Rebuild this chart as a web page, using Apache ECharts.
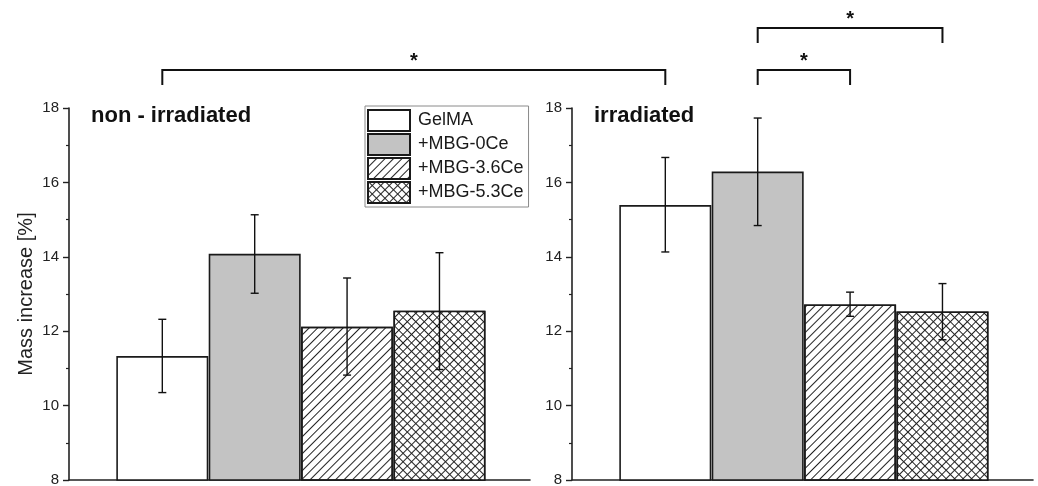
<!DOCTYPE html>
<html>
<head>
<meta charset="utf-8">
<script src="https://cdn.jsdelivr.net/npm/echarts@6/dist/echarts.min.js"></script>
<style>
  html, body { margin: 0; padding: 0; background: #fff; }
  #main { width: 1038px; height: 486px; }
</style>
</head>
<body>
<div id="main"></div>
<script>
// groups (legend)
const groups = ['GelMA', '+MBG-0Ce', '+MBG-3.6Ce', '+MBG-5.3Ce'];
const panelTitles = ['non - irradiated', 'irradiated'];
// mean values + error range, non-irradiated
const nonIrrMean = [11.33, 14.08, 12.12, 12.55];
const nonIrrLow = [10.35, 13.02, 10.82, 10.97];
const nonIrrHigh = [12.32, 15.13, 13.43, 14.11];
// irradiated
const irrMean = [15.39, 16.29, 12.72, 12.53];
const irrLow = [14.13, 14.84, 12.40, 11.77];
const irrHigh = [16.67, 17.73, 13.05, 13.28];
// significance brackets: [panel, group] -> [panel, group], level
const brackets = [
  { from: [0, 0], to: [1, 0], level: 0 },
  { from: [1, 1], to: [1, 2], level: 0 },
  { from: [1, 1], to: [1, 3], level: 1 }
];

const FONT = 'Arial, "Liberation Sans", sans-serif';

const styles = [
  { color: '#ffffff' },
  { color: '#c3c3c3' },
  { color: '#ffffff', decal: { symbol: 'rect', symbolSize: 1, color: '#222', dashArrayX: [1, 0], dashArrayY: [1, 5], rotation: -Math.PI / 4 } },
  { color: '#222222', decal: { symbol: 'rect', symbolSize: 1, color: '#ffffff', dashArrayX: [4.6, 1], dashArrayY: [4.6, 1], rotation: Math.PI / 4 } }
];

var chart = echarts.init(document.getElementById('main'), null, { renderer: 'canvas' });

function yAxisOf(grid, withName) {
  return {
    type: 'value', gridIndex: grid, min: 8, max: 18, interval: 2,
    name: withName ? 'Mass increase [%]' : '',
    nameLocation: 'middle', nameGap: 33,
    nameTextStyle: { fontFamily: FONT, fontSize: 20, color: '#222' },
    axisLine: { show: true, onZero: false, lineStyle: { color: '#222', width: 1.6 } },
    axisTick: { show: true, inside: false, length: 6, lineStyle: { color: '#222', width: 1.4 } },
    minorTick: { show: true, splitNumber: 2, length: 3, lineStyle: { color: '#222', width: 1.2 } },
    axisLabel: { fontFamily: FONT, fontSize: 15, color: '#222', margin: 10 },
    splitLine: { show: false }
  };
}

function xAxisOf(grid, min) {
  return {
    type: 'value', gridIndex: grid, min: min, max: 3.98,
    axisLine: { show: true, onZero: false, lineStyle: { color: '#222', width: 1.6 } },
    axisTick: { show: false }, axisLabel: { show: false }, splitLine: { show: false }
  };
}

function errorSeries(grid, low, high) {
  return {
    type: 'custom', xAxisIndex: grid, yAxisIndex: grid, z: 10,
    data: low.map((l, i) => [i, l, high[i]]),
    renderItem: function (params, api) {
      var lo = api.coord([api.value(0), api.value(1)]);
      var hi = api.coord([api.value(0), api.value(2)]);
      var w = 4;
      var st = { stroke: '#111', lineWidth: 1.4 };
      return {
        type: 'group', children: [
          { type: 'line', shape: { x1: lo[0], y1: lo[1], x2: hi[0], y2: hi[1] }, style: st },
          { type: 'line', shape: { x1: lo[0] - w, y1: lo[1], x2: lo[0] + w, y2: lo[1] }, style: st },
          { type: 'line', shape: { x1: hi[0] - w, y1: hi[1], x2: hi[0] + w, y2: hi[1] }, style: st }
        ]
      };
    }
  };
}

var series = [];
[nonIrrMean, irrMean].forEach(function (means, p) {
  groups.forEach(function (g, i) {
    series.push({
      type: 'bar', name: g, xAxisIndex: p, yAxisIndex: p,
      barWidth: 92, barGap: '-100%',
      data: [[i, means[i]]],
      itemStyle: Object.assign({ borderColor: '#1a1a1a', borderWidth: 1.6 }, styles[i]),
      emphasis: { disabled: true }
    });
  });
});
series.push(errorSeries(0, nonIrrLow, nonIrrHigh));
series.push(errorSeries(1, irrLow, irrHigh));

var option = {
  backgroundColor: '#ffffff',
  animation: false,
  grid: [
    { left: 69, top: 108, width: 461, height: 372, containLabel: false, outerBoundsMode: 'none' },
    { left: 572, top: 108, width: 461, height: 372, containLabel: false, outerBoundsMode: 'none' }
  ],
  xAxis: [xAxisOf(0, -1.01), xAxisOf(1, -1.01)],
  yAxis: [yAxisOf(0, true), yAxisOf(1, false)],
  legend: {
    data: groups, orient: 'vertical', left: 365, top: 106,
    icon: 'rect', itemWidth: 42, itemHeight: 21, itemGap: 1,
    borderColor: '#8a8a8a', borderWidth: 1, padding: [3, 5, 3, 2],
    textStyle: { fontFamily: FONT, fontSize: 18, color: '#1a1a1a', padding: [0, 0, 0, 3] },
    selectedMode: false
  },
  title: panelTitles.map(function (t, p) {
    return {
      text: t, left: p === 0 ? 86 : 589, top: 100,
      textStyle: { fontFamily: FONT, fontSize: 22, fontWeight: 'bold', color: '#111' }
    };
  }),
  series: series
};
chart.setOption(option);

// significance brackets, x from the axes
var levelY = [70, 28];
var graphics = [];
brackets.forEach(function (b) {
  var x1 = chart.convertToPixel({ gridIndex: b.from[0] }, [b.from[1], 8])[0];
  var x2 = chart.convertToPixel({ gridIndex: b.to[0] }, [b.to[1], 8])[0];
  var y = levelY[b.level];
  graphics.push({
    type: 'polyline',
    shape: { points: [[x1, y + 15], [x1, y], [x2, y], [x2, y + 15]] },
    style: { stroke: '#111', lineWidth: 2, fill: null }
  });
  graphics.push({
    type: 'text', x: (x1 + x2) / 2, y: y + 1,
    style: { text: '*', font: 'bold 20px ' + FONT, fill: '#111', textAlign: 'center', textVerticalAlign: 'bottom' }
  });
});
chart.setOption({ graphic: graphics });
</script>
</body>
</html>
